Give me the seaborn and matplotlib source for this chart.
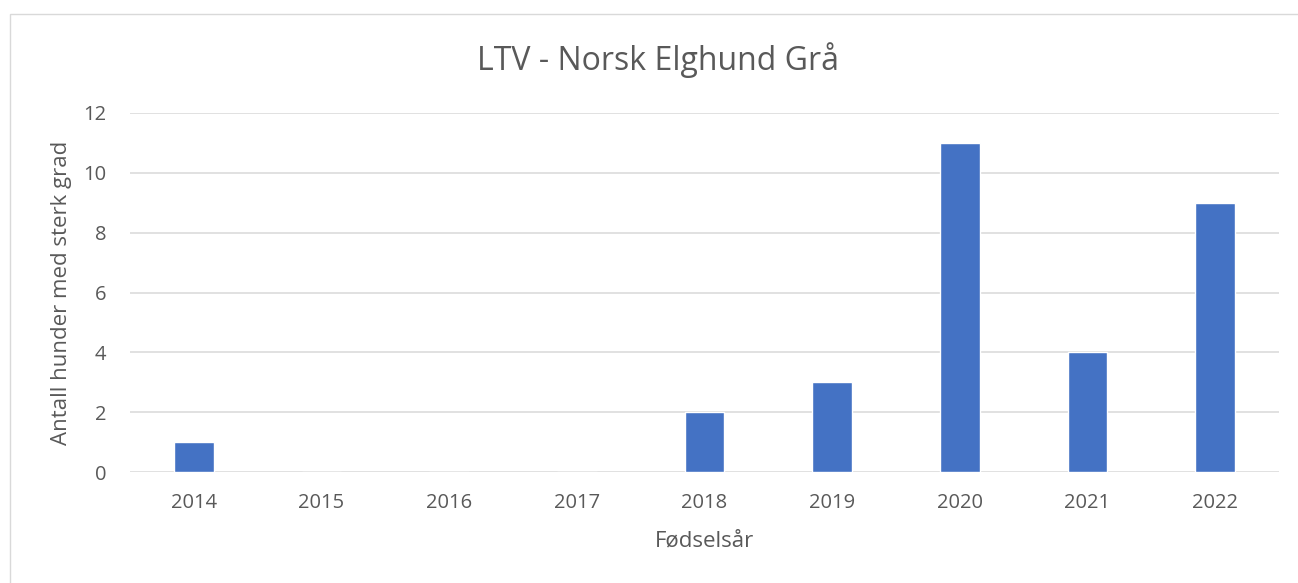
import matplotlib
matplotlib.use("Agg")
import matplotlib.pyplot as plt
from matplotlib.patches import Rectangle
import seaborn as sns
import pandas as pd

# data
years = ["2014", "2015", "2016", "2017", "2018", "2019", "2020", "2021", "2022"]
counts = [1, 0, 0, 0, 2, 3, 11, 4, 9]
yticks = [0, 2, 4, 6, 8, 10, 12]

df = pd.DataFrame({"Fødselsår": years, "Antall": counts})

sns.set_theme(style="white")
plt.rcParams["font.family"] = ["Open Sans", "DejaVu Sans"]
text_col = "#595959"
grid_col = "#D9D9D9"

fig = plt.figure(figsize=(12.98, 5.83), dpi=100)
ax = fig.add_axes([130 / 1298, 1 - 472 / 583, 1149 / 1298, 359 / 583])

sns.barplot(data=df, x="Fødselsår", y="Antall", order=years, color="#4472C4",
            width=0.313, saturation=1, ax=ax, zorder=3)

ax.set_ylim(0, 12)
ax.set_xlim(-0.5, len(years) - 0.5)
ax.set_yticks(yticks)
ax.yaxis.grid(True, color=grid_col, linewidth=1.1, zorder=0)
ax.set_axisbelow(True)
for s in ax.spines.values():
    s.set_visible(False)
ax.tick_params(axis="both", length=0, labelsize=14.5, labelcolor=text_col)
ax.tick_params(axis="y", pad=17)
ax.tick_params(axis="x", pad=15)

ax.set_xlabel("Fødselsår", fontsize=16, color=text_col, labelpad=13)
ax.set_ylabel("Antall hunder med sterk grad", fontsize=16, color=text_col, labelpad=8)

fig.text(658 / 1298, 1 - 60 / 583, "LTV - Norsk Elghund Grå", ha="center", va="center",
         fontsize=23, color=text_col)

# chart border
fig.patches.append(Rectangle((9.5 / 1298, -0.1), 1.2, 1.1 - 14.5 / 583, transform=fig.transFigure,
                             fill=False, edgecolor=grid_col, linewidth=1.0))

fig.savefig("out.png", dpi=100)
